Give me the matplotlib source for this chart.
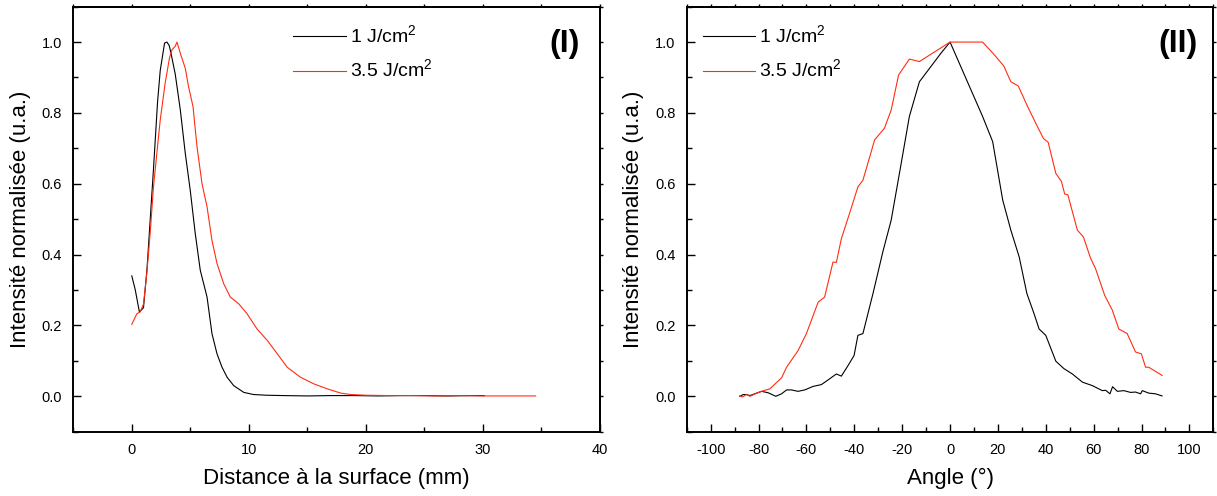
import matplotlib
matplotlib.use("Agg")
import matplotlib.pyplot as plt
from matplotlib.ticker import MultipleLocator

plt.rcParams['font.family'] = ['Liberation Sans', 'DejaVu Sans']
plt.rcParams['mathtext.fontset'] = 'custom'
plt.rcParams['mathtext.rm'] = 'Liberation Sans'
plt.rcParams['axes.unicode_minus'] = False

# (I) intensity vs distance to the surface (mm)
dist_1 = [0.0, 0.3, 0.65, 1.0, 1.3, 1.57, 1.85, 2.2, 2.43, 2.8, 3.0, 3.2, 3.34, 3.71,
          4.14, 4.57, 5.0, 5.42, 5.85, 6.43, 6.85, 7.28, 7.71, 8.14, 8.71, 9.57, 10.4,
          11.5, 13.0, 15.0, 17.0, 19.0, 21.0, 23.0, 25.0, 27.0, 29.0, 30.1]
int_1 = [0.34, 0.30, 0.238, 0.25, 0.36, 0.497, 0.64, 0.83, 0.92, 0.997, 1.0, 0.99, 0.97, 0.91,
         0.81, 0.686, 0.58, 0.46, 0.356, 0.28, 0.177, 0.12, 0.082, 0.054, 0.03, 0.011, 0.005,
         0.003, 0.002, 0.001, 0.002, 0.002, 0.001, 0.002, 0.002, 0.001, 0.002, 0.002]

dist_35 = [0.0, 0.43, 0.71, 1.0, 1.28, 1.57, 1.85, 2.14, 2.43, 2.85, 3.22, 3.43, 3.71, 3.86,
           4.14, 4.57, 4.85, 5.23, 5.57, 6.0, 6.43, 6.85, 7.28, 7.85, 8.42, 9.14, 9.85,
           10.7, 11.57, 12.43, 13.28, 14.4, 15.56, 16.7, 17.85, 18.7, 20.0, 22.0, 24.0,
           26.0, 28.0, 30.0, 32.0, 34.5]
int_35 = [0.203, 0.233, 0.238, 0.26, 0.346, 0.46, 0.59, 0.686, 0.78, 0.884, 0.955, 0.978, 0.988, 1.0,
          0.969, 0.926, 0.874, 0.818, 0.705, 0.60, 0.535, 0.44, 0.375, 0.318, 0.28, 0.261, 0.233,
          0.19, 0.158, 0.12, 0.082, 0.054, 0.035, 0.021, 0.009, 0.005, 0.003, 0.002, 0.002,
          0.001, 0.002, 0.001, 0.001, 0.001]

# (II) intensity vs angle (deg)
ang_1 = [-87.8, -86.4, -85.0, -83.6, -78.75, -76.0, -72.8, -70.4, -68.3, -66.25, -63.5, -60.7,
         -57.2, -53.75, -51.0, -47.5, -45.4, -42.6, -40.1, -38.5, -36.4, -32.2, -28.0, -24.6,
         -20.4, -17.0, -12.8, -3.75, 0.0, 13.6, 17.8, 22.0, 25.4, 28.9, 32.1, 35.1, 37.2, 40.0,
         44.2, 47.6, 51.1, 55.3, 59.5, 63.6, 65.0, 66.8, 67.9, 69.9, 72.6, 75.4, 77.5, 79.6,
         80.3, 83.0, 85.8, 88.6]
int_ang_1 = [0.0, 0.005, 0.005, 0.002, 0.014, 0.01, 0.0, 0.007, 0.018, 0.018, 0.014, 0.018,
             0.028, 0.033, 0.046, 0.063, 0.057, 0.087, 0.115, 0.172, 0.177, 0.29, 0.41, 0.497,
             0.658, 0.79, 0.888, 0.969, 1.0, 0.79, 0.719, 0.554, 0.469, 0.393, 0.29, 0.233, 0.19, 0.172,
             0.099, 0.078, 0.063, 0.04, 0.03, 0.016, 0.017, 0.007, 0.027, 0.014, 0.016, 0.011, 0.012, 0.007,
             0.016, 0.009, 0.007, 0.001]

ang_35 = [-87.8, -86.8, -85.0, -83.6, -80.8, -78.75, -75.3, -70.4, -68.3, -63.5, -60.0, -55.1,
          -52.4, -48.9, -47.5, -45.4, -42.0, -38.5, -36.4, -31.5, -27.4, -24.6, -21.5, -17.0,
          -12.8, 0.0, 13.6, 18.5, 22.4, 25.4, 28.5, 32.4, 35.8, 39.0, 41.0, 44.2, 46.5, 47.9,
          49.2, 53.2, 55.7, 58.75, 60.8, 64.6, 67.8, 70.5, 74.0, 77.5, 79.9, 81.7, 83.0, 88.6]
int_ang_35 = [0.002, -0.002, 0.005, 0.0, 0.009, 0.014, 0.021, 0.052, 0.082, 0.129, 0.177, 0.266,
              0.28, 0.379, 0.378, 0.445, 0.516, 0.591, 0.61, 0.724, 0.757, 0.808, 0.907, 0.952,
              0.945, 1.0, 1.0, 0.964, 0.933, 0.888, 0.876, 0.818, 0.771, 0.728, 0.717, 0.629, 0.607, 0.571,
              0.569, 0.469, 0.45, 0.389, 0.36, 0.285, 0.243, 0.19, 0.177, 0.125, 0.12, 0.082, 0.082, 0.059]

labels = [r'1 J/cm$^{\mathregular{2}}$', r'3.5 J/cm$^{\mathregular{2}}$']
red = '#ff2d12'

fig = plt.figure(figsize=(12.17, 4.96), dpi=100)
ax1 = fig.add_axes([0.0602, 0.1296, 0.4328, 0.857])
ax2 = fig.add_axes([0.5643, 0.1296, 0.4327, 0.857])


def style_axes(ax, xmaj, xmin, topstep):
    ax.set_ylim(-0.1, 1.1)
    ax.xaxis.set_major_locator(MultipleLocator(xmaj))
    ax.xaxis.set_minor_locator(MultipleLocator(xmin))
    ax.yaxis.set_major_locator(MultipleLocator(0.2))
    ax.yaxis.set_minor_locator(MultipleLocator(0.1))
    ax.yaxis.set_major_formatter(plt.FormatStrFormatter('%.1f'))
    for s in ax.spines.values():
        s.set_linewidth(1.4)
    ax.tick_params(which='both', direction='in', width=1.0, labelsize=10.5,
                   top=False, right=False, pad=8)
    ax.tick_params(which='major', length=6)
    ax.tick_params(which='minor', length=3.5)
    ax.set_ylabel('Intensité normalisée (u.a.)', fontsize=16, labelpad=8)
    top = ax.secondary_xaxis('top')
    top.xaxis.set_major_locator(MultipleLocator(topstep))
    top.tick_params(direction='out', length=2, width=1.0, labeltop=False)
    top.spines['top'].set_linewidth(1.4)
    right = ax.secondary_yaxis('right')
    right.yaxis.set_major_locator(MultipleLocator(0.1))
    right.tick_params(direction='out', length=2, width=1.0, labelright=False)
    right.spines['right'].set_linewidth(1.4)


ax1.plot(dist_1, int_1, color='black', lw=0.8, label=labels[0])
ax1.plot(dist_35, int_35, color=red, lw=0.8, label=labels[1])
ax1.set_xlim(-5, 40)
style_axes(ax1, 10, 5, 5)
ax1.set_xlabel('Distance à la surface (mm)', fontsize=16, labelpad=8)
ax1.legend(loc='upper left', bbox_to_anchor=(0.4177, 0.958), frameon=False, fontsize=14,
           handlelength=2.7, handletextpad=0.2, labelspacing=0.6, borderpad=0, borderaxespad=0)
ax1.text(0.9336, 0.912, '(I)', transform=ax1.transAxes, fontsize=23, fontweight='bold',
         ha='center', va='center')

ax2.plot(ang_1, int_ang_1, color='black', lw=0.8, label=labels[0])
ax2.plot(ang_35, int_ang_35, color=red, lw=0.8, label=labels[1])
ax2.set_xlim(-110, 110)
style_axes(ax2, 20, 10, 10)
ax2.set_xlabel('Angle (°)', fontsize=16, labelpad=8)
ax2.legend(loc='upper left', bbox_to_anchor=(0.0304, 0.958), frameon=False, fontsize=14,
           handlelength=2.7, handletextpad=0.2, labelspacing=0.6, borderpad=0, borderaxespad=0)
ax2.text(0.932, 0.912, '(II)', transform=ax2.transAxes, fontsize=23, fontweight='bold',
         ha='center', va='center')

fig.savefig('out.png', dpi=100)
